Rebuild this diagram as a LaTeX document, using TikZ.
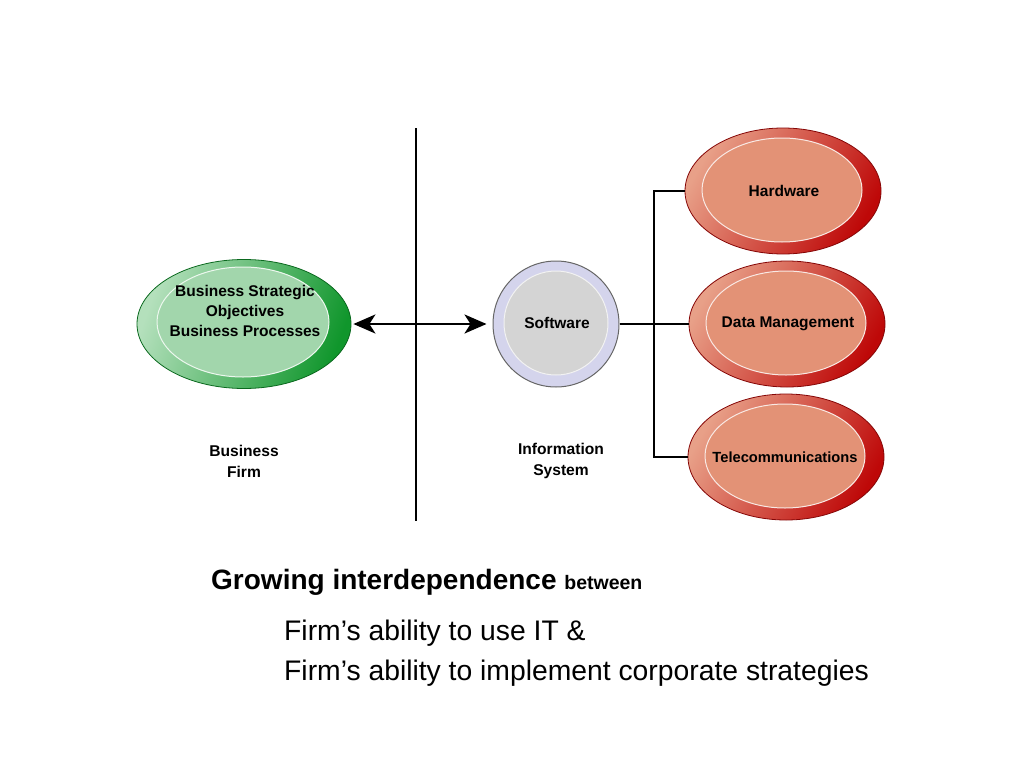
\documentclass[tikz,border=0pt]{standalone}
\usepackage{fontspec}
\setmainfont{Liberation Sans}
\usetikzlibrary{shapes.geometric,arrows.meta}
\definecolor{redlight}{HTML}{E8A088}
\definecolor{reddark}{HTML}{BE0808}
\definecolor{redinner}{HTML}{E39276}
\definecolor{greenlight}{HTML}{B4E0BC}
\definecolor{greendark}{HTML}{10962C}
\definecolor{greeninner}{HTML}{A2D6AC}
\definecolor{swouter}{HTML}{D4D4EC}
\definecolor{swinner}{HTML}{D4D4D4}
\tikzset{
  redouter/.style={ellipse, draw=reddark!70!black, line width=0.8pt, minimum width=196pt, minimum height=126pt, left color=redlight, right color=reddark, shading angle=60},
  redin/.style={ellipse, draw=white!80!redinner, line width=1pt, fill=redinner, minimum width=160pt, minimum height=104pt, inner sep=0pt},
  txt/.style={font=\bfseries\fontsize{15.5}{20}\selectfont, align=center, inner sep=0pt},
  conn/.style={line width=2.4pt, black},
  lbl/.style={font=\bfseries\fontsize{15.6}{21}\selectfont, align=center}
}
\begin{document}
\begin{tikzpicture}[x=1pt,y=-1pt]
\useasboundingbox (0,0) rectangle (1024,768);
% divider
\coordinate (vtop) at (416,128);
\coordinate (vbot) at (416,521);
\draw[conn] (vtop) -- (vbot);
% business
\node[ellipse, draw=greendark!70!black, line width=0.8pt, minimum width=214pt, minimum height=129pt, left color=greenlight, right color=greendark, shading angle=70] (biz) at (244,324) {};
\node[ellipse, draw=white!80!greeninner, line width=1pt, fill=greeninner, minimum width=172pt, minimum height=110pt, inner sep=0pt] (bizin) at (243,322) {};
\node[txt] (biztxt) at (245,311) {Business Strategic\\Objectives\\Business Processes};
% software
\node[circle, draw=gray!80!black, line width=1pt, fill=swouter, minimum size=126pt] (sw) at (556,324) {};
\node[circle, draw=white!70!swinner, line width=1pt, fill=swinner, minimum size=104pt, inner sep=0pt] (swin) at (556,323) {};
\node[txt] (swtxt) at (557,323) {Software};
% red ellipses
\node[redouter] (hw) at (783,191) {};
\node[redin] (hwin) at (782,190) {};
\node[txt] (hwtxt) at (784,191) {Hardware};
\node[redouter] (dm) at (787,324) {};
\node[redin] (dmin) at (786,323) {};
\node[txt] (dmtxt) at (788,324) {Data Management};
\node[redouter] (tc) at (786,457) {};
\node[redin] (tcin) at (785,456) {};
\node[txt, font=\bfseries\fontsize{14.7}{18}\selectfont] (tctxt) at (785,457) {Telecommunications};
% arrows
\draw[conn, {Stealth[length=22pt,width=19pt,inset=6pt]}-{Stealth[length=22pt,width=19pt,inset=6pt]}] ([xshift=2pt]biz.east) -- ([xshift=-6pt]sw.west);
% connectors
\coordinate (br) at (654,324);
\draw[conn] (sw.east) -- (dm.west);
\draw[conn] (hw.west) -| (br) |- (tc.west);
% labels
\node[lbl] (bf) at (244,461) {Business\\Firm};
\node[lbl] (is) at (561,461) {Information\\System};
% bottom text
\node[anchor=base west, inner sep=0pt, font=\bfseries\fontsize{28}{32}\selectfont] (g1) at (211,589) {Growing interdependence {\fontsize{19.5}{22}\selectfont between}};
\node[anchor=base west, inner sep=0pt, font=\fontsize{28.3}{32}\selectfont] (f1) at (284,640) {Firm’s ability to use IT \&};
\node[anchor=base west, inner sep=0pt, font=\fontsize{28.3}{32}\selectfont] (f2) at (284,680) {Firm’s ability to implement corporate strategies};
\end{tikzpicture}
\end{document}
